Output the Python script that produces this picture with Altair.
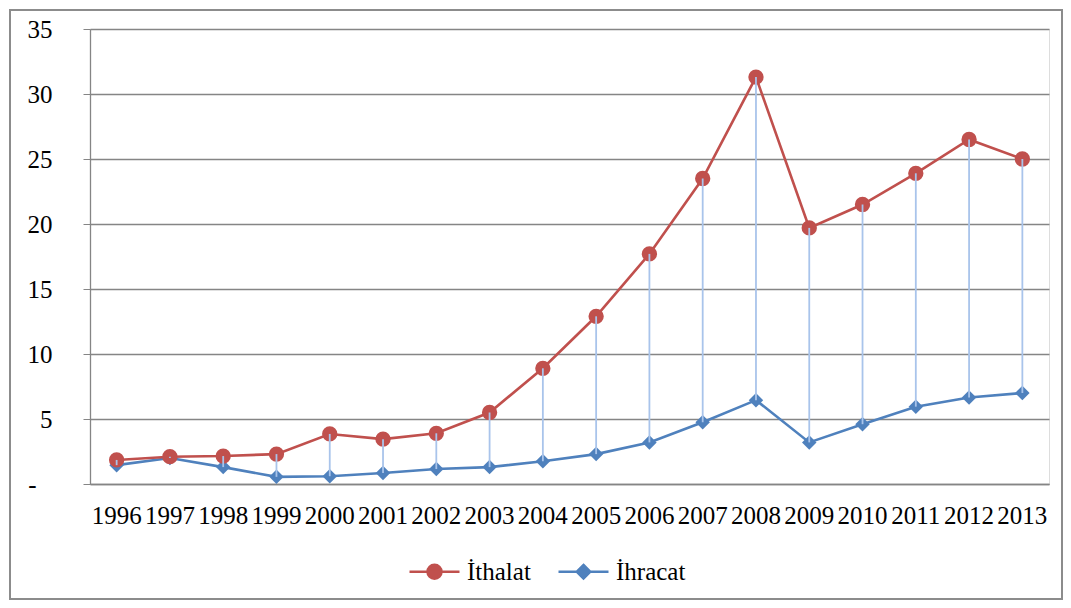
import altair as alt
import pandas as pd

years = [str(y) for y in range(1996, 2014)]
ithalat = [1.85, 2.1, 2.15, 2.3, 3.85, 3.45, 3.9, 5.5, 8.9, 12.9, 17.7, 23.5, 31.3, 19.7, 21.5, 23.9, 26.5, 25.0]
ihracat = [1.45, 2.0, 1.3, 0.55, 0.6, 0.85, 1.15, 1.3, 1.75, 2.3, 3.2, 4.75, 6.45, 3.2, 4.6, 5.95, 6.65, 7.0]
series = ["İthalat", "İhracat"]
colors = ["#C0504D", "#4F81BD"]

wide = pd.DataFrame({"Yil": years, "ithalat": ithalat, "ihracat": ihracat})
df_it = pd.DataFrame({"Yil": years, "Seri": series[0], "Deger": ithalat})
df_ih = pd.DataFrame({"Yil": years, "Seri": series[1], "Deger": ihracat})
long = pd.concat([df_it, df_ih], ignore_index=True)

W, H = 959, 455
FONT = "Liberation Serif"
FS = 25
GRID = "#858585"

xenc = alt.X("Yil:N", sort=years, title=None,
             scale=alt.Scale(paddingInner=0, paddingOuter=0),
             axis=alt.Axis(labelAngle=0, ticks=False, labelPadding=19, labelFontSize=FS,
                           labelFont=FONT, labelColor="black", domainColor=GRID,
                           domainWidth=1.3, grid=False, labelOverlap=False))
yscale = alt.Scale(domain=[0, 35], nice=False)
yaxis = alt.Axis(values=[0, 5, 10, 15, 20, 25, 30, 35], title=None, labelFontSize=FS,
                 labelFont=FONT, labelColor="black", tickSize=7, tickColor=GRID,
                 labelPadding={"condition": {"test": "datum.value === 0", "value": 47}, "value": 31},
                 domainColor=GRID, domainWidth=1.3,
                 gridColor=GRID, gridWidth=1.3,
                 labelExpr="datum.value === 0 ? '-' : datum.label")

circle_path = "M-1,0H1M-0.28,0A0.28,0.28 0 1,0 0.28,0A0.28,0.28 0 1,0 -0.28,0Z"
diamond_path = "M-1,0H1M0,-0.27L0.27,0L0,0.27L-0.27,0Z"

legend = alt.Legend(
    title=None, orient="none", legendX=318, legendY=516, direction="horizontal",
    labelFont=FONT, labelFontSize=FS, labelColor="black", symbolSize=2500,
    symbolOpacity=1, symbolStrokeWidth=2.5, labelOffset=6, columnPadding=22)

color_scale = alt.Scale(domain=series, range=colors)

border = alt.Chart(pd.DataFrame({"a": [0]})).mark_rect(
    fill=None, stroke="#8c8c8c", strokeWidth=2).encode(
    x=alt.value(-80), x2=alt.value(W + 13), y=alt.value(-19), y2=alt.value(H + 115))

yenc = alt.Y("Deger:Q", scale=yscale, axis=yaxis)

rules = alt.Chart(wide).mark_rule(color="#A9C4EB", strokeWidth=1.8).encode(
    x=xenc, y=alt.Y("ithalat:Q", scale=yscale, axis=yaxis), y2="ihracat:Q")

line_it = alt.Chart(df_it).mark_line(strokeWidth=2.6, color=colors[0]).encode(x=xenc, y=yenc)
line_ih = alt.Chart(df_ih).mark_line(strokeWidth=2.6, color=colors[1]).encode(x=xenc, y=yenc)

pts_it = alt.Chart(df_it).mark_point(filled=True, opacity=1, shape="circle", size=235,
                                     color=colors[0]).encode(x=xenc, y=yenc)
pts_ih = alt.Chart(df_ih).mark_point(filled=True, opacity=1, shape="diamond", size=210,
                                     color=colors[1]).encode(x=xenc, y=yenc)

leg_layer = alt.Chart(long).transform_filter("datum.Deger < -1000").mark_point().encode(
    x=xenc, y=yenc,
    fill=alt.Fill("Seri:N", scale=color_scale, sort=series, legend=legend),
    stroke=alt.Stroke("Seri:N", scale=color_scale, sort=series, legend=legend),
    shape=alt.Shape("Seri:N", sort=series,
                    scale=alt.Scale(domain=series, range=[circle_path, diamond_path]),
                    legend=legend))

chart = alt.layer(border, line_ih, line_it, pts_ih, pts_it, rules, leg_layer).properties(
    width=W, height=H,
    autosize=alt.AutoSizeParams(type="none"),
    padding={"left": 82, "top": 21, "right": 14, "bottom": 116},
).configure_view(stroke=None).configure(background="white")

chart.save("out.html", embed_options={"renderer": "svg", "actions": False})
